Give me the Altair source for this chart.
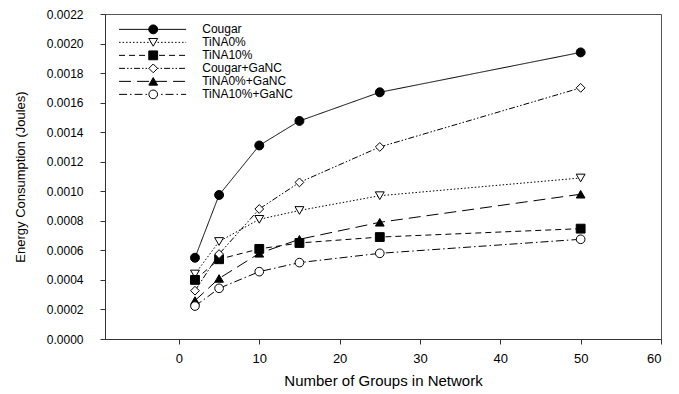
import altair as alt
import pandas as pd

groups = [2, 5, 10, 15, 25, 50]
series_names = ["Cougar", "TiNA0%", "TiNA10%", "Cougar+GaNC", "TiNA0%+GaNC", "TiNA10%+GaNC"]
cougar = [0.00055, 0.000975, 0.00131, 0.001476, 0.00167, 0.00194]
tina0 = [0.00044, 0.00066, 0.00081, 0.00087, 0.00097, 0.00109]
tina10 = [0.00040, 0.00054, 0.00061, 0.00065, 0.00069, 0.000747]
cougar_ganc = [0.000327, 0.000575, 0.00088, 0.00106, 0.00130, 0.00170]
tina0_ganc = [0.00026, 0.00041, 0.00058, 0.000675, 0.00079, 0.00098]
tina10_ganc = [0.000223, 0.000343, 0.000456, 0.000517, 0.00058, 0.000675]
y_ticks = [round(i * 0.0002, 4) for i in range(12)]
x_ticks = [0, 10, 20, 30, 40, 50, 60]

values = [cougar, tina0, tina10, cougar_ganc, tina0_ganc, tina10_ganc]
rows = []
for name, vals in zip(series_names, values):
    for g, v in zip(groups, vals):
        rows.append({"series": name, "groups": g, "energy": v})
df = pd.DataFrame(rows)

# legend rows (placed inside the plot, top-left, in data units)
leg_top = 0.002096
leg_step = 0.000088
leg = pd.DataFrame({
    "series": series_names,
    "ly": [leg_top - i * leg_step for i in range(len(series_names))],
})
leg["x0"] = -7.45
leg["x1"] = 0.9
leg["xs"] = -3.2
leg["xt"] = 2.9

FONT = "Liberation Sans"
dash_scale = alt.Scale(domain=series_names, range=[[1, 0], [1.5, 2], [6, 4], [6, 2, 1.5, 2, 1.5, 2], [12, 6], [8, 3, 1.5, 3]])
shape_scale = alt.Scale(domain=series_names, range=["circle", "triangle-down", "square", "diamond", "triangle-up", "circle"])
fill_scale = alt.Scale(domain=series_names, range=["black", "white", "black", "white", "black", "white"])
size_scale = alt.Scale(domain=series_names, range=[80, 75, 55, 90, 75, 70])

xs = alt.Scale(domain=[-9.2, 60], nice=False, zero=False)
ys = alt.Scale(domain=[0, 0.0022], nice=False)
x_axis = alt.Axis(values=x_ticks, format="d", grid=False, tickSize=5, labelPadding=8,
                  labelFontSize=13, titleFontSize=15, titlePadding=8, labelOverlap=False)
y_axis = alt.Axis(values=y_ticks, format=".4f", grid=False, tickSize=5, labelPadding=17,
                  labelFontSize=12, titleFontSize=13, titlePadding=19, labelOverlap=False)
XT = "Number of Groups in Network"
YT = "Energy Consumption (Joules)"


def X(f):
    return alt.X(f, scale=xs, axis=x_axis, title=XT)


def Y(f):
    return alt.Y(f, scale=ys, axis=y_axis, title=YT)


base = alt.Chart(df)
lines = base.mark_line(color="black", strokeWidth=1).encode(
    x=X("groups:Q"),
    y=Y("energy:Q"),
    strokeDash=alt.StrokeDash("series:N", scale=dash_scale, legend=None),
    detail="series:N",
)
points = base.mark_point(stroke="black", strokeWidth=1, opacity=1).encode(
    x=X("groups:Q"),
    y=Y("energy:Q"),
    shape=alt.Shape("series:N", scale=shape_scale, legend=None),
    fill=alt.Fill("series:N", scale=fill_scale, legend=None),
    size=alt.Size("series:N", scale=size_scale, legend=None),
)

lbase = alt.Chart(leg)
leg_lines = lbase.mark_rule(color="black", strokeWidth=1).encode(
    x=X("x0:Q"), x2="x1:Q",
    y=Y("ly:Q"),
    strokeDash=alt.StrokeDash("series:N", scale=dash_scale, legend=None),
)
leg_pts = lbase.mark_point(stroke="black", strokeWidth=1, opacity=1).encode(
    x=X("xs:Q"),
    y=Y("ly:Q"),
    shape=alt.Shape("series:N", scale=shape_scale, legend=None),
    fill=alt.Fill("series:N", scale=fill_scale, legend=None),
    size=alt.Size("series:N", scale=size_scale, legend=None),
)
leg_txt = lbase.mark_text(align="left", baseline="middle", font=FONT, fontSize=12, color="black").encode(
    x=X("xt:Q"),
    y=Y("ly:Q"),
    text="series:N",
)

chart = alt.layer(lines, points, leg_lines, leg_pts, leg_txt).properties(
    width=556, height=325, padding={"left": 6, "top": 0, "right": 5, "bottom": 2}
).configure_view(stroke="#555555", strokeWidth=1).configure_axis(
    labelFont=FONT, titleFont=FONT,
    titleFontWeight="normal", labelColor="black", titleColor="black",
    domainColor="#333333", tickColor="#333333"
)

chart.save("out.html", embed_options={"renderer": "svg", "actions": False})
